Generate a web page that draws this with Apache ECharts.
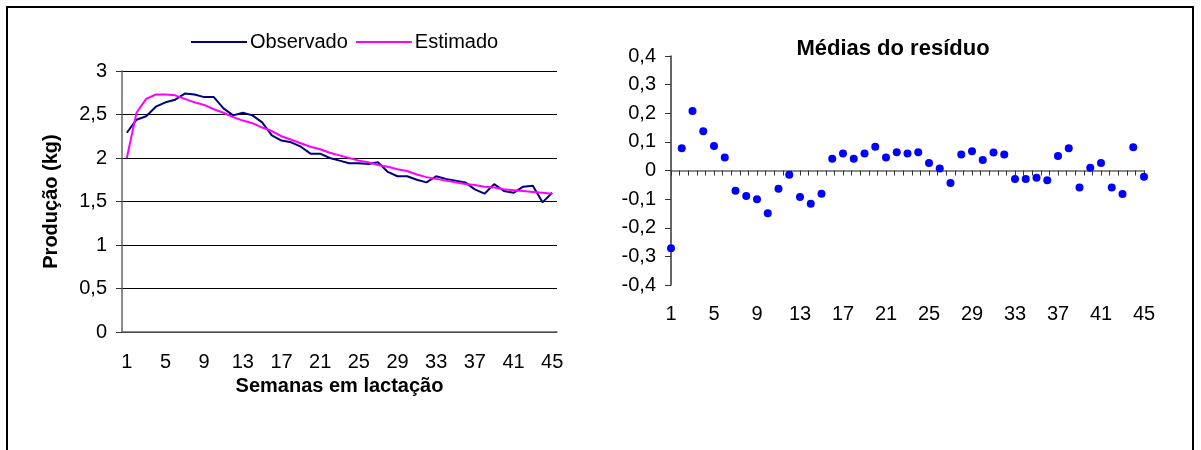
<!DOCTYPE html>
<html>
<head>
<meta charset="utf-8">
<script src="https://cdn.jsdelivr.net/npm/echarts@6/dist/echarts.min.js"></script>
<style>
  html, body { margin: 0; padding: 0; background: #fff; }
  #main { width: 1201px; height: 450px; }
</style>
</head>
<body>
<div id="main"></div>
<script>
// semanas 1..45
var weeks = ['1','2','3','4','5','6','7','8','9','10','11','12','13','14','15','16','17','18','19','20','21','22','23','24','25','26','27','28','29','30','31','32','33','34','35','36','37','38','39','40','41','42','43','44','45'];

var observado = [2.29, 2.44, 2.48, 2.59, 2.64, 2.67, 2.74, 2.73, 2.70, 2.70,
                 2.57, 2.49, 2.52, 2.49, 2.41, 2.26, 2.20, 2.18, 2.13, 2.05,
                 2.05, 2.00, 1.97, 1.94, 1.94, 1.93, 1.95, 1.84, 1.79, 1.79,
                 1.75, 1.72, 1.79, 1.76, 1.74, 1.72, 1.64, 1.59, 1.70, 1.62,
                 1.60, 1.67, 1.68, 1.49, 1.60];

var estimado = [2.00, 2.52, 2.68, 2.73, 2.73, 2.72, 2.68, 2.64, 2.61, 2.56,
                2.52, 2.47, 2.43, 2.40, 2.35, 2.31, 2.25, 2.21, 2.17, 2.13,
                2.10, 2.06, 2.03, 2.00, 1.97, 1.95, 1.92, 1.90, 1.87, 1.85,
                1.81, 1.78, 1.76, 1.74, 1.72, 1.70, 1.69, 1.67, 1.66, 1.64,
                1.63, 1.62, 1.61, 1.60, 1.59];

var residuo = [-0.272, 0.078, 0.208, 0.137, 0.086, 0.045, -0.071, -0.089, -0.100, -0.149,
               -0.064, -0.015, -0.093, -0.116, -0.081, 0.041, 0.059, 0.041, 0.059, 0.083,
               0.045, 0.064, 0.059, 0.064, 0.026, 0.007, -0.044, 0.056, 0.067, 0.037,
               0.063, 0.056, -0.030, -0.030, -0.025, -0.034, 0.051, 0.078, -0.059, 0.010,
               0.026, -0.059, -0.082, 0.081, -0.022];

var fontFam = 'Liberation Sans, Arial, sans-serif';

function comma(v) {
    return String(Math.round(v * 10) / 10).replace('.', ',');
}

var myChart = echarts.init(document.getElementById('main'), null, {renderer: 'canvas'});

var option = {
    animation: false,
    backgroundColor: '#fff',
    textStyle: { fontFamily: fontFam, color: '#000' },
    title: {
        text: 'Médias do resíduo',
        left: 888, top: 33, textAlign: 'center',
        textStyle: { fontFamily: fontFam, fontSize: 22, fontWeight: 'bold', color: '#000' }
    },
    legend: {
        left: 186, top: 27,
        itemWidth: 56, itemHeight: 2, itemGap: 8,
        icon: 'rect',
        textStyle: { fontFamily: fontFam, fontSize: 20, color: '#000', padding: [0, 0, 0, -2] },
        data: ['Observado', 'Estimado']
    },
    graphic: [{
        type: 'rect',
        shape: { x: 7, y: 7, width: 1186, height: 460 },
        style: { fill: 'none', stroke: '#000', lineWidth: 2 },
        silent: true
    }],
    grid: [
        { left: 122, right: 644, top: 71, bottom: 118 },
        { left: 671, right: 57, top: 56, bottom: 165 }
    ],
    xAxis: [
        {
            gridIndex: 0, type: 'category', data: weeks, boundaryGap: true,
            name: 'Semanas em lactação', nameLocation: 'middle', nameGap: 43,
            nameTextStyle: { fontFamily: fontFam, fontSize: 20, fontWeight: 'bold', color: '#000' },
            axisLine: { lineStyle: { color: '#666', width: 1.5 } },
            axisTick: { interval: 0, length: 6, lineStyle: { color: '#333' } },
            axisLabel: { interval: 3, margin: 20, fontSize: 20, color: '#000', fontFamily: fontFam }
        },
        {
            gridIndex: 1, type: 'category', data: weeks, boundaryGap: false, position: 'bottom',
            axisLine: { show: false, onZero: false },
            axisTick: { show: false },
            axisLabel: { interval: 3, margin: 19, fontSize: 20, color: '#000', fontFamily: fontFam }
        },
        {
            // linha do zero com marcas
            gridIndex: 1, type: 'value', min: 0, max: 55, interval: 1, position: 'bottom',
            axisLine: { onZero: true, lineStyle: { color: '#666', width: 1.5 } },
            axisTick: { length: 5, lineStyle: { color: '#333' } },
            axisLabel: { show: false },
            splitLine: { show: false }
        }
    ],
    yAxis: [
        {
            gridIndex: 0, type: 'value', min: 0, max: 3, interval: 0.5,
            name: 'Produção (kg)', nameLocation: 'middle', nameGap: 61, nameRotate: 90,
            nameTextStyle: { fontFamily: fontFam, fontSize: 20, fontWeight: 'bold', color: '#000' },
            axisLine: { show: true, lineStyle: { color: '#666', width: 1.5 } },
            axisTick: { show: true, length: 6, lineStyle: { color: '#333' } },
            axisLabel: { margin: 15, fontSize: 20, color: '#000', fontFamily: fontFam, formatter: comma },
            splitLine: { lineStyle: { color: '#000', width: 1 } }
        },
        {
            gridIndex: 1, type: 'value', min: -0.4, max: 0.4, interval: 0.1,
            axisLine: { show: true, lineStyle: { color: '#333', width: 1.5 } },
            axisTick: { show: true, length: 6, lineStyle: { color: '#333' } },
            axisLabel: { margin: 15, fontSize: 20, color: '#000', fontFamily: fontFam, formatter: comma },
            splitLine: { show: false }
        }
    ],
    series: [
        {
            name: 'Observado', type: 'line', xAxisIndex: 0, yAxisIndex: 0,
            data: observado, symbol: 'none',
            itemStyle: { color: '#000080' },
            lineStyle: { color: '#000080', width: 2 }
        },
        {
            name: 'Estimado', type: 'line', xAxisIndex: 0, yAxisIndex: 0,
            data: estimado, symbol: 'none',
            itemStyle: { color: '#ff00ff' },
            lineStyle: { color: '#ff00ff', width: 2 }
        },
        {
            name: 'Resíduo', type: 'scatter', xAxisIndex: 1, yAxisIndex: 1,
            data: residuo, symbol: 'circle', symbolSize: 8,
            itemStyle: { color: '#0000ff', opacity: 1 }
        }
    ]
};

myChart.setOption(option);
</script>
</body>
</html>
